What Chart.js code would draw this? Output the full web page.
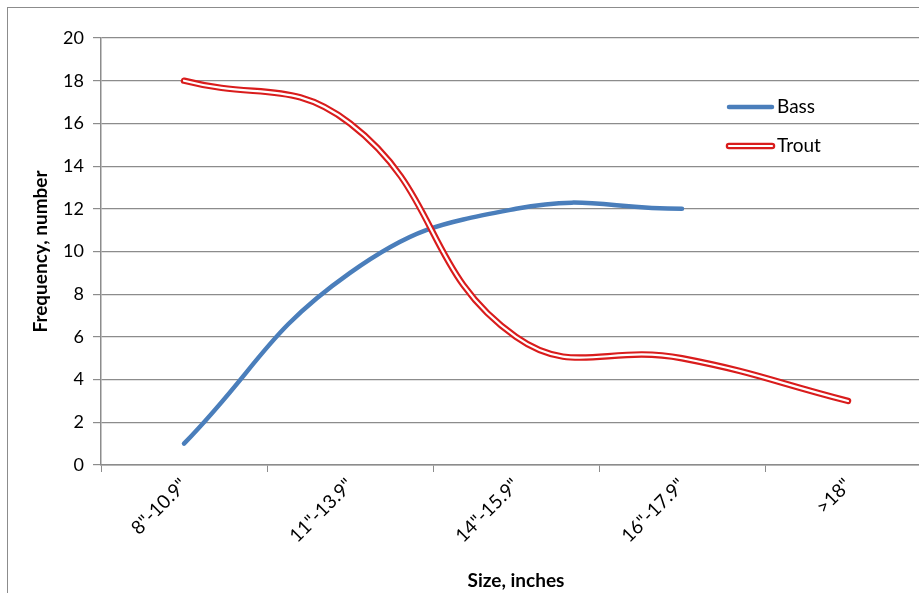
<!DOCTYPE html>
<html>
<head>
<meta charset="utf-8">
<script src="https://cdn.jsdelivr.net/npm/chart.js@4.4.0/dist/chart.umd.min.js"></script>
<style>
  html, body { margin: 0; padding: 0; background: #fff; overflow: hidden; width: 919px; height: 593px; }
  #frame { position: absolute; left: 7px; top: 7px; width: 1000px; height: 700px; border: 1px solid #8c8c8c; }
  #wrap { position: absolute; left: 0; top: 0; width: 960px; height: 610px; }
</style>
</head>
<body>
<div id="frame"></div>
<div id="wrap"><canvas id="fish-chart"></canvas></div>
<script>
// Size classes and counts
const sizeLabels = ['8"-10.9"', '11"-13.9"', '14"-15.9"', '16"-17.9"', '>18"'];
const bassCounts = [1, 9, 12, 12, null];
const troutCounts = [18, 16, 6, 5, 3];

const bassColor = '#4a7ebb';
const troutColor = '#d91c1c';
const gridColor = '#8c8c8c';
const fontFamily = 'Lato, "Open Sans", sans-serif';

// Legend drawn inside the plot, like the original
const insideLegend = {
    id: 'insideLegend',
    afterDraw(chart, args, opts) {
        const ctx = chart.ctx;
        const items = chart.data.datasets.filter(ds => !ds.hideInLegend);
        ctx.save();
        ctx.font = '19px ' + fontFamily;
        ctx.textBaseline = 'middle';
        items.forEach((ds, i) => {
            const y = opts.top + i * opts.gap;
            ctx.lineCap = 'round';
            if (ds.label === 'Trout') {
                ctx.strokeStyle = troutColor;
                ctx.lineWidth = 6.5;
                ctx.beginPath(); ctx.moveTo(opts.left, y); ctx.lineTo(opts.left + opts.len, y); ctx.stroke();
                ctx.strokeStyle = '#fff';
                ctx.lineWidth = 2.2;
                ctx.beginPath(); ctx.moveTo(opts.left, y); ctx.lineTo(opts.left + opts.len, y); ctx.stroke();
            } else {
                ctx.strokeStyle = ds.borderColor;
                ctx.lineWidth = 4.5;
                ctx.beginPath(); ctx.moveTo(opts.left, y); ctx.lineTo(opts.left + opts.len, y); ctx.stroke();
            }
            ctx.fillStyle = '#000';
            ctx.fillText(ds.label, opts.left + opts.len + 5, y);
        });
        ctx.restore();
    }
};

new Chart(document.getElementById('fish-chart'), {
    type: 'line',
    data: {
        labels: sizeLabels,
        datasets: [
            {
                label: 'Trout inner',
                hideInLegend: true,
                data: troutCounts,
                borderColor: '#fff',
                borderWidth: 2.2,
                borderCapStyle: 'round',
                tension: 0.45,
                pointRadius: 0,
                order: 0
            },
            {
                label: 'Bass',
                data: bassCounts,
                borderColor: bassColor,
                borderWidth: 4.5,
                borderCapStyle: 'round',
                tension: 0.45,
                pointRadius: 0,
                order: 2
            },
            {
                label: 'Trout',
                data: troutCounts,
                borderColor: troutColor,
                borderWidth: 6.5,
                borderCapStyle: 'round',
                tension: 0.45,
                pointRadius: 0,
                order: 1
            }
        ]
    },
    options: {
        responsive: true,
        maintainAspectRatio: false,
        animation: false,
        layout: { padding: { left: 0, top: 38, right: 29, bottom: 15 } },
        plugins: {
            legend: { display: false },
            tooltip: { enabled: false },
            insideLegend: { left: 729, top: 107, gap: 39, len: 43 }
        },
        scales: {
            x: {
                offset: true,
                afterFit(scale) { scale.height = 130; },
                grid: {
                    offset: true,
                    drawOnChartArea: false,
                    drawTicks: true,
                    tickLength: 7,
                    color: gridColor
                },
                border: { color: gridColor, width: 1.5 },
                ticks: {
                    maxRotation: 45,
                    minRotation: 45,
                    autoSkip: false,
                    padding: 2,
                    color: '#000',
                    font: { family: fontFamily, size: 19 }
                },
                title: {
                    display: true,
                    text: 'Size, inches',
                    color: '#000',
                    padding: { top: 4, bottom: 3 },
                    font: { family: fontFamily, size: 19, weight: 'bold' }
                }
            },
            y: {
                min: 0,
                max: 20,
                afterFit(scale) { scale.width = 101; },
                grid: {
                    color: gridColor,
                    lineWidth: 1.2,
                    drawTicks: true,
                    tickLength: 8
                },
                border: { color: gridColor, width: 1.5 },
                ticks: {
                    stepSize: 2,
                    padding: 9,
                    color: '#000',
                    font: { family: fontFamily, size: 18 }
                },
                title: {
                    display: true,
                    text: 'Frequency, number',
                    color: '#000',
                    padding: { top: 29, bottom: 0 },
                    font: { family: fontFamily, size: 19, weight: 'bold' }
                }
            }
        }
    },
    plugins: [insideLegend]
});
</script>
</body>
</html>
